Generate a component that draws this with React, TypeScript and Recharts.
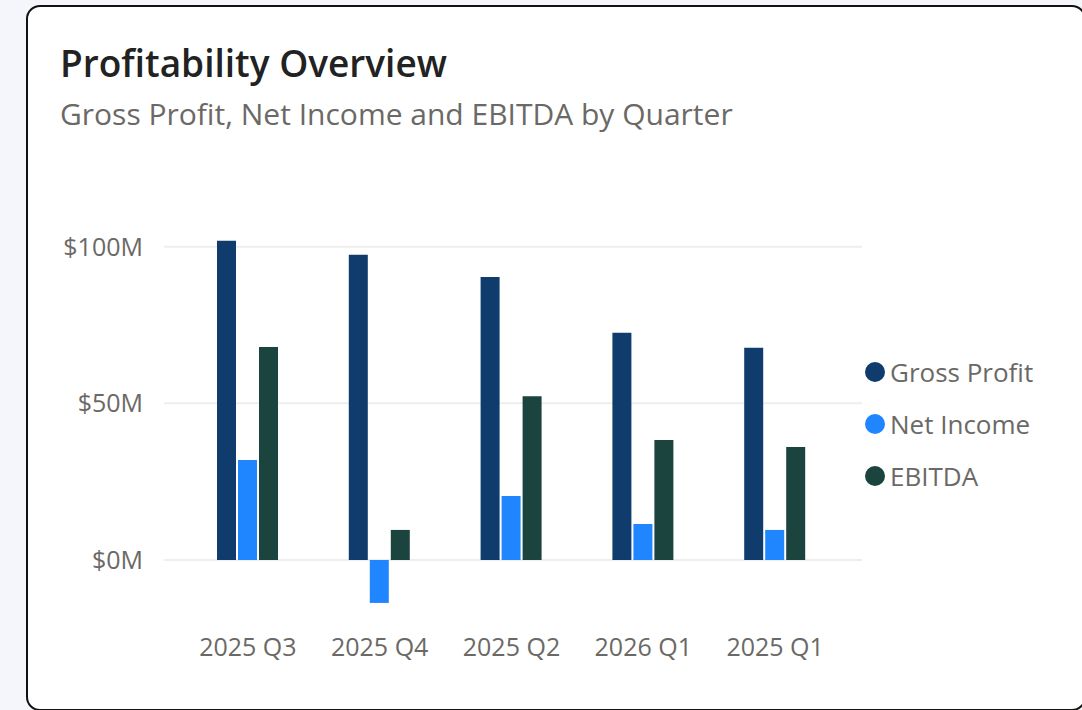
import React from 'react';
import { BarChart, Bar, XAxis, YAxis, CartesianGrid, Legend } from 'recharts';

const categories = ['2025 Q3', '2025 Q4', '2025 Q2', '2026 Q1', '2025 Q1'];
const grossProfit = [101.9, 97.4, 90.3, 72.5, 67.7];
const netIncome = [31.9, -13.7, 20.4, 11.5, 9.6];
const ebitda = [68.0, 9.6, 52.3, 38.3, 36.1];
const yTicks = [0, 50, 100];

const seriesOrder = ['Gross Profit', 'Net Income', 'EBITDA'];
const colors = { gross: '#0f3c6d', net: '#1f86ff', ebitda: '#1b443f' };

const data = categories.map((q, i) => ({
  quarter: q,
  gross: grossProfit[i],
  net: netIncome[i],
  ebitda: ebitda[i],
}));

const FONT = '"Open Sans", "Noto Sans", sans-serif';
const TEXT_GRAY = '#6b6966';

const LegendContent = (props: any) => {
  const items = [...(props.payload || [])].sort(
    (a: any, b: any) => seriesOrder.indexOf(a.value) - seriesOrder.indexOf(b.value)
  );
  return (
    <ul style={{ listStyle: 'none', margin: 0, padding: 0 }}>
      {items.map((entry: any) => (
        <li
          key={entry.value}
          style={{ display: 'flex', alignItems: 'center', height: 52, fontFamily: FONT, fontSize: 26, color: TEXT_GRAY, whiteSpace: 'nowrap' }}
        >
          <span
            style={{ display: 'inline-block', width: 20, height: 20, borderRadius: 10, background: entry.color, marginRight: 5 }}
          />
          <span>{entry.value}</span>
        </li>
      ))}
    </ul>
  );
};

export default function App() {
  return (
    <div style={{ position: 'fixed', left: 0, top: 0, width: 1082, height: 710, background: '#f4f6fb', overflow: 'hidden' }}>
      <div
        style={{
          position: 'absolute',
          left: 26,
          top: 5,
          width: 1060,
          height: 706,
          boxSizing: 'border-box',
          border: '2px solid #111',
          borderRadius: 14,
          background: '#ffffff',
        }}
      />
      <div
        style={{
          position: 'absolute',
          left: 60,
          top: 44,
          fontFamily: FONT,
          fontWeight: 600,
          fontSize: 37,
          lineHeight: '37px',
          color: '#222222',
          whiteSpace: 'nowrap',
        }}
      >
        Profitability Overview
      </div>
      <div
        style={{
          position: 'absolute',
          left: 60,
          top: 99,
          fontFamily: FONT,
          fontSize: 30,
          lineHeight: '30px',
          color: '#6b6966',
          whiteSpace: 'nowrap',
        }}
      >
        Gross Profit, Net Income and EBITDA by Quarter
      </div>
      <div style={{ position: 'absolute', left: 0, top: 0 }}>
        <BarChart
          width={1082}
          height={710}
          data={data}
          margin={{ top: 184, right: 220, bottom: 47.33, left: 0 }}
          barSize={19}
          barGap={2}
        >
          <CartesianGrid
            horizontal
            vertical={false}
            horizontalValues={yTicks}
            stroke="#eeeeee"
            strokeWidth={2}
          />
          <XAxis
            dataKey="quarter"
            axisLine={false}
            tickLine={false}
            tickSize={0}
            tickMargin={16}
            height={40}
            padding={{ left: 18, right: 21 }}
            tick={{ fill: TEXT_GRAY, fontSize: 25, fontFamily: FONT }}
            interval={0}
          />
          <YAxis
            width={164}
            domain={[-20, 120]}
            ticks={yTicks}
            axisLine={false}
            tickLine={false}
            tickSize={0}
            tickMargin={21}
            tickFormatter={(v: number) => `$${v}M`}
            tick={{ fill: TEXT_GRAY, fontSize: 25, fontFamily: FONT }}
          />
          <Legend
            layout="vertical"
            align="center"
            verticalAlign="middle"
            content={<LegendContent />}
            wrapperStyle={{ left: 865, top: 346, width: 210 }}
          />
          <Bar dataKey="gross" name="Gross Profit" fill={colors.gross} isAnimationActive={false} />
          <Bar dataKey="net" name="Net Income" fill={colors.net} isAnimationActive={false} />
          <Bar dataKey="ebitda" name="EBITDA" fill={colors.ebitda} isAnimationActive={false} />
        </BarChart>
      </div>
    </div>
  );
}
